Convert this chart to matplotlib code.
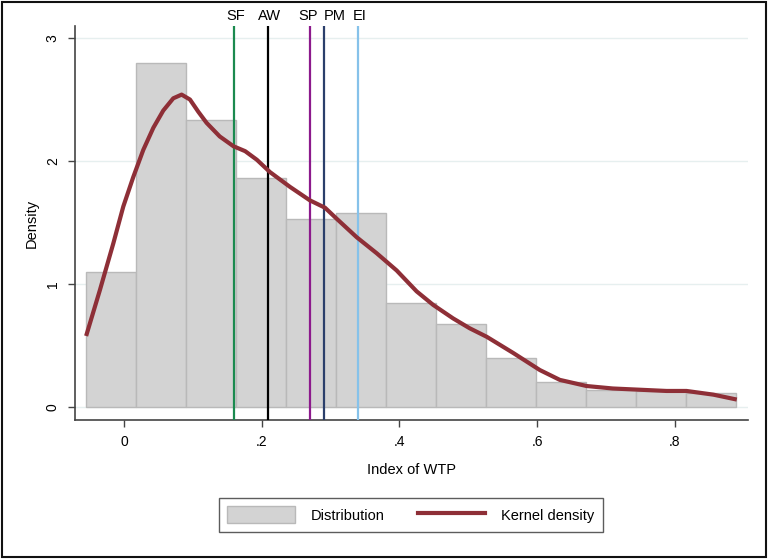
import numpy as np
import matplotlib
matplotlib.use("Agg")
import matplotlib.pyplot as plt
from matplotlib.patches import Patch, Rectangle
from matplotlib.lines import Line2D

plt.rcParams['font.family'] = ['Liberation Sans', 'DejaVu Sans']

# histogram bins (left edges, common width) and densities
bin_start = -0.0548
bin_width = 0.0726
bar_heights = [1.10, 2.80, 2.33, 1.86, 1.53, 1.574, 0.843, 0.678, 0.397, 0.206, 0.139, 0.130, 0.110]

# kernel density curve
kd_x = [-0.055, -0.035, -0.0155, -0.001, 0.0135, 0.028, 0.0426, 0.057, 0.0716, 0.0837,
        0.0958, 0.108, 0.120, 0.139, 0.159, 0.176, 0.193, 0.212, 0.241, 0.270, 0.292,
        0.309, 0.338, 0.367, 0.396, 0.425, 0.449, 0.478, 0.502, 0.527, 0.565, 0.604,
        0.633, 0.672, 0.710, 0.749, 0.788, 0.817, 0.856, 0.890]
kd_y = [0.577, 0.95, 1.33, 1.63, 1.87, 2.09, 2.27, 2.41, 2.51, 2.54,
        2.50, 2.40, 2.31, 2.20, 2.12, 2.08, 2.01, 1.91, 1.79, 1.68, 1.62,
        1.53, 1.38, 1.25, 1.11, 0.94, 0.83, 0.72, 0.64, 0.57, 0.44, 0.30,
        0.22, 0.17, 0.15, 0.14, 0.13, 0.13, 0.10, 0.06]

# reference lines
ref_labels = ["SF", "AW", "SP", "PM", "EI"]
ref_x = [0.160, 0.209, 0.270, 0.290, 0.340]
ref_colors = ["#1b8a4f", "#000000", "#8c1a8c", "#2b3f6b", "#86c2ea"]
label_shift = [1, 1, -1, 8, 1]  # points, so SP and PM labels don't collide

fig = plt.figure(figsize=(7.68, 5.59), dpi=100)
ax = fig.add_axes([0.0977, 0.2487, 0.876, 0.7048])

edges = bin_start + bin_width * np.arange(len(bar_heights))
ax.bar(edges, bar_heights, width=bin_width, align="edge", color="#d3d3d3",
       edgecolor="#b9b9b9", linewidth=1.0, zorder=2)

ax.plot(kd_x, kd_y, color="#8e2f37", linewidth=3.0, zorder=4, solid_capstyle="butt")

for lab, xv, c, dx in zip(ref_labels, ref_x, ref_colors, label_shift):
    ax.axvline(xv, color=c, linewidth=1.6, zorder=3)
    ax.annotate(lab, xy=(xv, 1.0), xycoords=ax.get_xaxis_transform(),
                xytext=(dx, 2), textcoords="offset points", ha="center",
                va="bottom", fontsize=10.5)

ax.set_xlim(-0.0711, 0.906)
ax.set_ylim(-0.106, 3.098)
ax.set_xticks([0, 0.2, 0.4, 0.6, 0.8])
ax.set_xticklabels(["0", ".2", ".4", ".6", ".8"])
ax.set_yticks([0, 1, 2, 3])
ax.set_yticklabels(["0", "1", "2", "3"], rotation=90, va="center")
ax.tick_params(labelsize=10, length=5, width=1, color="#444444", pad=6)
ax.grid(axis="y", color="#e6efef", linewidth=1.0, zorder=0)
ax.set_axisbelow(True)
for s in ["top", "right"]:
    ax.spines[s].set_visible(False)
for s in ["left", "bottom"]:
    ax.spines[s].set_color("#444444")
    ax.spines[s].set_linewidth(1.2)

ax.set_xlabel("Index of WTP", fontsize=10.5, labelpad=10)
ax.set_ylabel("Density", fontsize=10.5, labelpad=5)

handles = [Patch(facecolor="#d3d3d3", edgecolor="#b9b9b9"),
           Line2D([0], [0], color="#8e2f37", linewidth=3.0)]
leg = fig.legend(handles, ["Distribution", "Kernel density"], loc="center",
                 bbox_to_anchor=(0.535, 0.079), ncol=2, fontsize=10.5,
                 frameon=True, fancybox=False, edgecolor="#333333",
                 handlelength=4.6, handleheight=1.4, columnspacing=2.3,
                 borderpad=0.6, handletextpad=1.1)
leg.get_frame().set_linewidth(1.0)

fig.patches.append(Rectangle((0.003, 0.003), 0.994, 0.994, transform=fig.transFigure,
                             fill=False, edgecolor="#111111", linewidth=1.5))

fig.savefig("out.png", dpi=100)
